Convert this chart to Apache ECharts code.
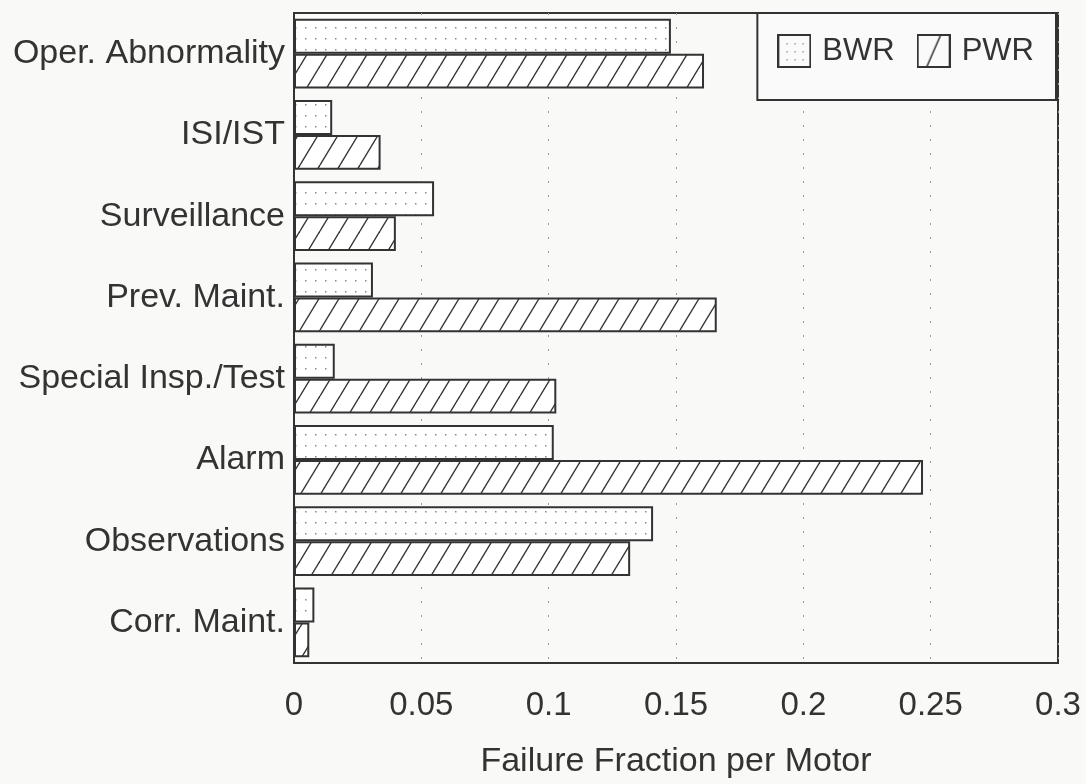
<!DOCTYPE html>
<html>
<head>
<meta charset="utf-8">
<script src="https://cdn.jsdelivr.net/npm/echarts@6/dist/echarts.min.js"></script>
<style>
html,body{margin:0;padding:0;background:#f9f9f7;}
#c{width:1086px;height:784px;}
</style>
</head>
<body>
<div id="c"></div>
<script>
const categories = ['Oper. Abnormality','ISI/IST','Surveillance','Prev. Maint.','Special Insp./Test','Alarm','Observations','Corr. Maint.'];
const bwrValues = [0.148, 0.015, 0.055, 0.031, 0.016, 0.102, 0.141, 0.008];
const pwrValues = [0.161, 0.034, 0.040, 0.166, 0.103, 0.247, 0.132, 0.006];
const xTicks = [0, 0.05, 0.1, 0.15, 0.2, 0.25, 0.3];

function dotPattern(){
  const c = document.createElement('canvas');
  c.width = 10; c.height = 11;
  const g = c.getContext('2d');
  g.fillStyle = '#ffffff'; g.fillRect(0,0,10,11);
  g.fillStyle = '#888';
  g.fillRect(5,5,1.5,1.5);
  return c;
}
function hatchPattern(){
  const w = 20, h = 33;
  const c = document.createElement('canvas');
  c.width = w; c.height = h;
  const g = c.getContext('2d');
  g.fillStyle = '#ffffff'; g.fillRect(0,0,w,h);
  g.strokeStyle = '#333'; g.lineWidth = 1.4;
  for (const dx of [-w, 0, w]) {
    g.beginPath(); g.moveTo(dx, h); g.lineTo(dx + w, 0); g.stroke();
  }
  return c;
}
function legendIcon(kind){
  const s = 34;
  const c = document.createElement('canvas');
  c.width = s; c.height = s;
  const g = c.getContext('2d');
  g.fillStyle = '#fafafa'; g.fillRect(0,0,s,s);
  g.strokeStyle = '#333'; g.lineWidth = 2;
  g.strokeRect(1,1,s-2,s-2);
  if (kind === 'dots') {
    g.fillStyle = '#999';
    for (const x of [9, 17, 25]) for (const y of [9, 17, 25]) g.fillRect(x, y, 1.5, 1.5);
  } else {
    g.lineWidth = 1.5;
    g.beginPath(); g.moveTo(10, s-1); g.lineTo(s-10, 1); g.stroke();
  }
  return 'image://' + c.toDataURL();
}

const chart = echarts.init(document.getElementById('c'));
const font = 'Liberation Sans, Arial, Helvetica, sans-serif';
chart.setOption({
  backgroundColor: '#f9f9f7',
  animation: false,
  textStyle: {fontFamily: font},
  grid: {left: 294, right: 28, top: 13, bottom: 119, show: true, borderColor: '#333', borderWidth: 2, backgroundColor: 'transparent'},
  legend: {
    right: 30, top: 13,
    padding: [16, 22, 27, 20],
    borderColor: '#333', borderWidth: 2, backgroundColor: '#fafafa',
    itemWidth: 34, itemHeight: 34, itemGap: 22,
    textStyle: {fontSize: 31, color: '#333', fontFamily: font, padding: [10,0,0,6], lineHeight: 34},
    data: [{name: 'BWR', icon: legendIcon('dots')}, {name: 'PWR', icon: legendIcon('hatch')}]
  },
  xAxis: {
    type: 'value', min: 0, max: 0.3, interval: 0.05,
    name: 'Failure Fraction per Motor', nameLocation: 'middle', nameGap: 82,
    nameTextStyle: {fontSize: 34, color: '#333'},
    axisLine: {show: true, lineStyle: {color: '#333', width: 2}},
    axisTick: {show: false},
    axisLabel: {fontSize: 33, color: '#333', margin: 26,
      formatter: v => { const t = xTicks.find(x => Math.abs(x - v) < 1e-9); return t === undefined ? '' : String(t); }},
    splitLine: {show: true, lineStyle: {color: '#999', type: [2, 12], width: 1}}
  },
  yAxis: {
    type: 'category', data: categories, inverse: true,
    axisLine: {show: true, lineStyle: {color: '#333', width: 2}},
    axisTick: {show: false},
    axisLabel: {fontSize: 34, color: '#333', margin: 9}
  },
  series: [
    {name: 'BWR', type: 'bar', data: bwrValues, barGap: '0%', barCategoryGap: '14%',
      itemStyle: {color: {image: dotPattern(), repeat: 'repeat'}, borderColor: '#333', borderWidth: 2}},
    {name: 'PWR', type: 'bar', data: pwrValues, barGap: '0%', barCategoryGap: '14%',
      itemStyle: {color: {image: hatchPattern(), repeat: 'repeat'}, borderColor: '#333', borderWidth: 2}}
  ]
});
</script>
</body>
</html>
